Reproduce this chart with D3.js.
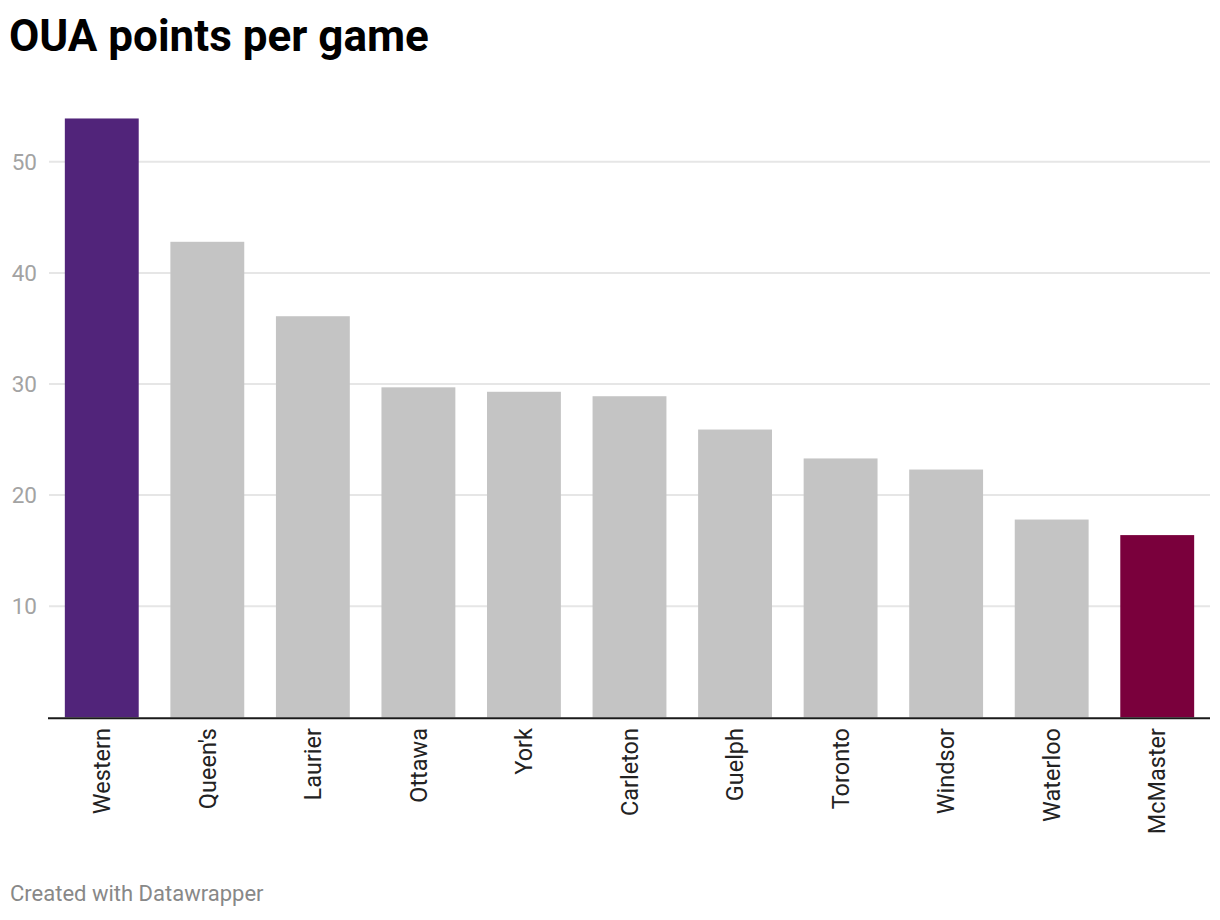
<!DOCTYPE html>
<html>
<head>
<meta charset="utf-8">
<script src="https://cdn.jsdelivr.net/npm/d3@7"></script>
<style>
  html, body { margin: 0; padding: 0; background: #fff; }
  svg { display: block; font-family: Roboto, "Noto Sans", sans-serif; }
</style>
</head>
<body>
<svg id="chart" width="1220" height="920"></svg>
<script>
const teams = ["Western", "Queen's", "Laurier", "Ottawa", "York", "Carleton", "Guelph", "Toronto", "Windsor", "Waterloo", "McMaster"];
const pointsPerGame = [53.9, 42.8, 36.1, 29.7, 29.3, 28.9, 25.9, 23.3, 22.3, 17.8, 16.4];
const yTicks = [10, 20, 30, 40, 50];
const barColors = ["#51247a", "#c4c4c4", "#c4c4c4", "#c4c4c4", "#c4c4c4", "#c4c4c4", "#c4c4c4", "#c4c4c4", "#c4c4c4", "#c4c4c4", "#7a003c"];
const titleText = "OUA points per game";
const footerText = "Created with Datawrapper";

const svg = d3.select("#chart");

const x = d3.scaleBand().domain(teams).range([49, 1210]).paddingInner(0.3).paddingOuter(0.15);
const y = d3.scaleLinear().domain([0, 50]).range([717.3, 161.8]);

// title
svg.append("text").attr("x", 9).attr("y", 51)
  .attr("font-size", 44).attr("font-weight", 700).attr("fill", "#000")
  .text(titleText);

// gridlines
svg.append("g").selectAll("line").data(yTicks).join("line")
  .attr("x1", 49).attr("x2", 1210)
  .attr("y1", d => y(d)).attr("y2", d => y(d))
  .attr("stroke", "#e6e6e6").attr("stroke-width", 2);

// y tick labels
svg.append("g").selectAll("text").data(yTicks).join("text")
  .attr("x", 37).attr("y", d => y(d)).attr("dy", "0.36em")
  .attr("text-anchor", "end").attr("font-size", 22.5).attr("fill", "#a3a3a3")
  .text(d => d);

// bars
svg.append("g").selectAll("rect").data(teams).join("rect")
  .attr("x", d => x(d)).attr("width", x.bandwidth())
  .attr("y", (d, i) => y(pointsPerGame[i]))
  .attr("height", (d, i) => y(0) - y(pointsPerGame[i]))
  .attr("fill", (d, i) => barColors[i]);

// baseline
svg.append("line").attr("x1", 48).attr("x2", 1210)
  .attr("y1", y(0) + 1).attr("y2", y(0) + 1)
  .attr("stroke", "#1a1a1a").attr("stroke-width", 2);

// x labels
svg.append("g").selectAll("text").data(teams).join("text")
  .attr("transform", d => `translate(${x(d) + x.bandwidth() / 2},728) rotate(-90)`)
  .attr("dy", "0.35em").attr("text-anchor", "end")
  .attr("font-size", 23.5).attr("fill", "#222")
  .text(d => d);

// footer
svg.append("text").attr("x", 10).attr("y", 901)
  .attr("font-size", 22).attr("fill", "#888")
  .text(footerText);
</script>
</body>
</html>
